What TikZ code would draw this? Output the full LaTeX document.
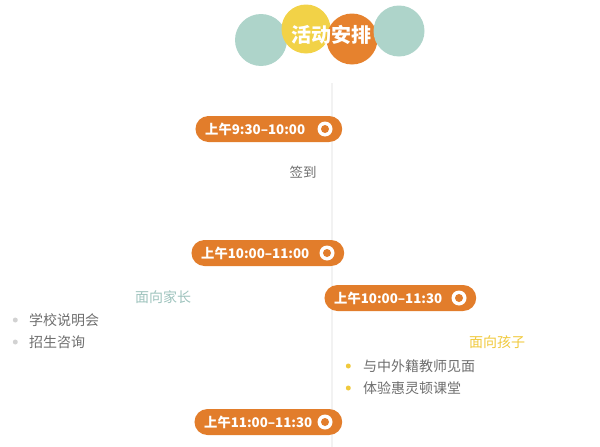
\documentclass[tikz,border=0pt]{standalone}
\usepackage{fontspec}
\setmainfont{Noto Sans CJK SC}
\usetikzlibrary{positioning}
\usetikzlibrary{fit}
\usetikzlibrary{backgrounds}
\usetikzlibrary{shapes.misc}
\definecolor{orangeA}{HTML}{E27D2B}
\definecolor{orangeB}{HTML}{E6822E}
\definecolor{tealA}{HTML}{AED4CA}
\definecolor{yellowA}{HTML}{F2D247}
\definecolor{textgray}{HTML}{6E6E6E}
\definecolor{parentcol}{HTML}{9EC3BD}
\definecolor{kidcol}{HTML}{F0C93C}
\tikzset{
    timetext/.style={anchor=west, text=white, inner sep=0pt, font=\fontsize{13.3}{16}\selectfont\bfseries},
    ring/.style={circle, fill=white, minimum size=15pt, inner sep=0pt,
        path picture={\fill[orangeA] (path picture bounding box.center) circle (4pt);}},
    pill/.style={rounded rectangle, fill=orangeA, inner xsep=7pt, inner ysep=0pt, minimum height=26pt},
    itemtext/.style={anchor=west, text=textgray, inner sep=0pt, font=\fontsize{14}{16}\selectfont},
    dot/.style={circle, inner sep=0pt, minimum size=5pt}
}
\begin{document}
\begin{tikzpicture}[x=1pt, y=-1pt]
            \useasboundingbox (0,0) rectangle (600,447);
            \fill[tealA] (261,40) circle (26);
            \fill[yellowA] (306,29) circle (24.5);
            \fill[orangeB] (352,39) circle (25.5);
            \fill[tealA] (399,31) circle (25.5);
            \node[text=white, font=\fontsize{20}{24}\selectfont\bfseries] (title) at (331,35) {活动安排};
            \node[timetext] (t1) at (205,129) {上午9:30--10:00};
            \node[ring] (r1) at (325,129) {};
            \node[timetext] (t2) at (201,253) {上午10:00--11:00};
            \node[ring] (r2) at (327,253) {};
            \node[timetext] (t3) at (334,298) {上午10:00--11:30};
            \node[ring] (r3) at (459,298) {};
            \node[timetext] (t4) at (204,422) {上午11:00--11:30};
            \node[ring] (r4) at (325,422) {};
            \begin{scope}[on background layer]
                \draw[gray!10, line width=2pt] (332,83) -- (332,447);
                \node[pill, fit=(t1)(r1)] (p1) {};
                \node[pill, fit=(t2)(r2)] (p2) {};
                \node[pill, fit=(t3)(r3)] (p3) {};
                \node[pill, fit=(t4)(r4)] (p4) {};
            \end{scope}
            \node[text=textgray, font=\fontsize{13.5}{16}\selectfont] (sign) at (303,172) {签到};
            \node[text=parentcol, font=\fontsize{14}{16}\selectfont] (parents) at (163,297) {面向家长};
            \node[itemtext] (a1) at (29,320) {学校说明会};
            \node[itemtext] (a2) at (29,342) {招生咨询};
            \node[dot, fill=gray!35, left=11pt of a1] (d1) {};
            \node[dot, fill=gray!35, left=11pt of a2] (d2) {};
            \node[text=kidcol, font=\fontsize{14}{16}\selectfont] (kids) at (497,342) {面向孩子};
            \node[itemtext] (b1) at (363,366) {与中外籍教师见面};
            \node[itemtext] (b2) at (363,388) {体验惠灵顿课堂};
            \node[dot, fill=kidcol, left=12pt of b1] (e1) {};
            \node[dot, fill=kidcol, left=12pt of b2] (e2) {};
        \end{tikzpicture}
\end{document}
